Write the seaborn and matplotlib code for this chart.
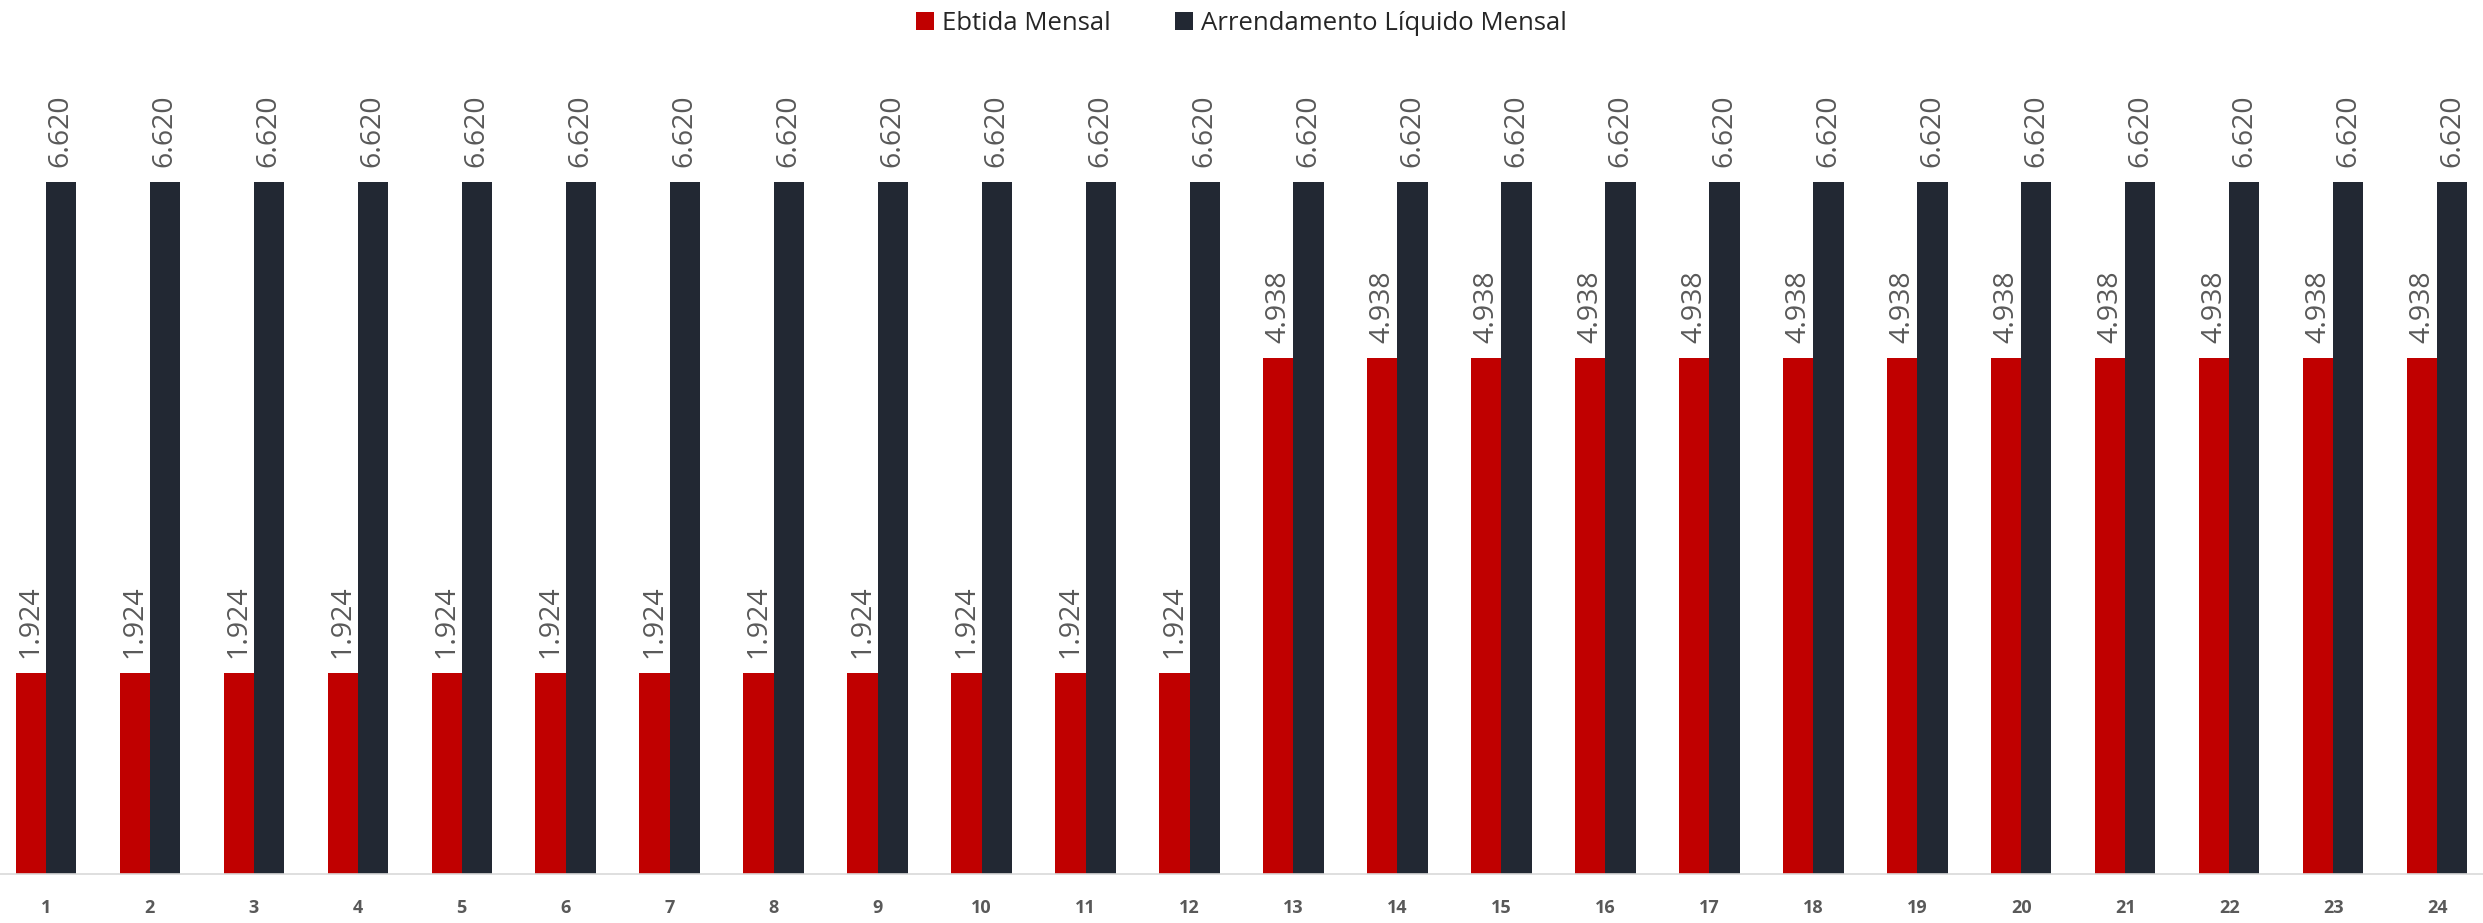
import matplotlib
matplotlib.use("Agg")
import matplotlib.pyplot as plt
import seaborn as sns
import pandas as pd

months = [str(i) for i in range(1, 25)]
ebtida = [1924] * 12 + [4938] * 12
arrendamento = [6620] * 24
series_names = ["Ebtida Mensal", "Arrendamento Líquido Mensal"]
colors = ["#C00000", "#222833"]

df = pd.DataFrame({
    "mes": months * 2,
    "valor": ebtida + arrendamento,
    "serie": [series_names[0]] * 24 + [series_names[1]] * 24,
})

sns.set_theme(style="white")
plt.rcParams["font.family"] = ["Open Sans", "DejaVu Sans"]

fig = plt.figure(figsize=(24.83, 9.23), dpi=100)
ax = fig.add_axes([0.0, 0.0531, 1.0, 0.906])
sns.barplot(data=df, x="mes", y="valor", hue="serie", palette=colors,
            width=0.58, ax=ax, order=months, hue_order=series_names,
            saturation=1, legend=True, edgecolor="none", linewidth=0)

ax.set_ylim(0, 8000)
ax.set_xlim(-0.44, 23.44)
for c in ax.containers:
    labels = [f"{v:,.0f}".replace(",", ".") for v in c.datavalues]
    ax.bar_label(c, labels=labels, rotation=90, padding=11, fontsize=20.5,
                 color="#595959")

ax.set_xlabel("")
ax.set_ylabel("")
ax.set_yticks([])
for s in ["top", "left", "right"]:
    ax.spines[s].set_visible(False)
ax.spines["bottom"].set_color("#D9D9D9")
ax.spines["bottom"].set_linewidth(1.2)
ax.tick_params(axis="x", length=0, pad=18, labelsize=13, labelcolor="#595959")
for t in ax.get_xticklabels():
    t.set_fontweight("bold")

leg = ax.legend(loc="upper center", bbox_to_anchor=(0.5, 1.06), ncol=2,
                frameon=False, fontsize=18.5, handlelength=0.7, handleheight=0.7,
                handletextpad=0.3, columnspacing=2.5, labelcolor="#262626")

fig.savefig("out.png", dpi=100)
